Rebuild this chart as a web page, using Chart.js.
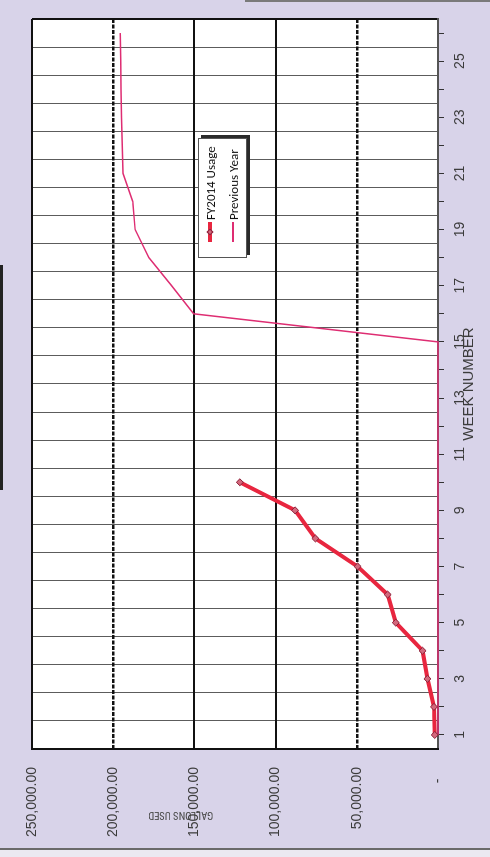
<!DOCTYPE html>
<html><head><meta charset="utf-8">
<script src="https://cdn.jsdelivr.net/npm/chart.js@4.4.0/dist/chart.umd.min.js"></script>
<style>
html,body{margin:0;padding:0;width:490px;height:857px;overflow:hidden;background:#d8d3e9;}
#rot{position:absolute;left:0;top:0;width:857px;height:490px;transform-origin:0 0;transform:translate(0,857px) rotate(-90deg);}
#c{position:absolute;left:0;top:0;}
#legend{position:absolute;left:599px;top:198px;width:120px;height:49px;background:#fff;border:1px solid #555;box-shadow:3px 3px 0 #2a2a2a;box-sizing:border-box;font-family:Carlito,Lato,'Liberation Sans',sans-serif;font-size:13px;color:#111;}
.li{position:absolute;left:15px;height:14px;display:flex;align-items:center;white-space:nowrap;}
.sw{position:relative;width:20px;height:14px;margin-right:2px;}
.sw .ln{position:absolute;left:0;right:0;top:50%;}
.sw .mk{position:absolute;left:50%;top:50%;width:5px;height:5px;transform:translate(-50%,-50%) rotate(45deg);box-sizing:border-box;}
#scanbottom{position:absolute;left:0;top:848px;width:490px;height:9px;background:#ebe9f1;border-top:2px solid #6a6a6a;}
#scanleft{position:absolute;left:0;top:265px;width:3px;height:225px;background:#222;}
#scantop{position:absolute;left:245px;top:0;width:245px;height:2px;background:#7a7a7a;}
</style></head>
<body>
<div id="rot"><canvas id="c" width="857" height="490"></canvas><div id="legend"></div></div>
<div id="scanbottom"></div><div id="scanleft"></div><div id="scantop"></div>
<script>
const weeks = ['1','2','3','4','5','6','7','8','9','10','11','12','13','14','15','16','17','18','19','20','21','22','23','24','25','26'];
const weekTickLabels = ['1','3','5','7','9','11','13','15','17','19','21','23','25'];
const fy2014Usage = [2000, 2500, 6500, 9500, 26000, 31000, 49500, 75500, 88000, 122000,
  null, null, null, null, null, null, null, null, null, null, null, null, null, null, null, null];
const previousYear = [0, 0, 0, 0, 0, 0, 0, 0, 0, 0, 0, 0, 0, 0, 0,
  150500, 164000, 178000, 186500, 188000, 194000, 194500, 194900, 195200, 195400, 195700];
const gallonTicks = [0, 50000, 100000, 150000, 200000, 250000];
const solidGallonLines = [100000, 150000, 250000];
const dashedGallonLines = [50000, 200000];

Chart.defaults.font.family = "'Liberation Sans', Arial, sans-serif";
const plotBg = {id:'plotBg', beforeDraw(c){const {ctx, chartArea:a} = c; ctx.save(); ctx.fillStyle = '#ffffff'; ctx.fillRect(a.left, a.top, a.width, a.height); ctx.restore();}};
const fmt = v => v === 0 ? '-   ' : Number(v).toLocaleString('en-US', {minimumFractionDigits:2, maximumFractionDigits:2});

// y title sits off-centre toward the top: pad its start with spaces
const yTitleFont = {family:"'Roboto Condensed','Liberation Sans',sans-serif", size:10.5, weight:'normal'};
function offCentreTitle(text, font, shiftPx){
  const m = document.createElement('canvas').getContext('2d');
  m.font = font.weight + ' ' + font.size + 'px ' + font.family;
  const sp = m.measureText(' ').width || 2.5;
  return ' '.repeat(Math.round(2 * shiftPx / sp)) + text;
}

const chart = new Chart(document.getElementById('c'), {
  type: 'line',
  data: {
    labels: weeks,
    datasets: [
      {label:'FY2014 Usage', data: fy2014Usage, borderColor:'#e8263f', borderWidth:4, pointStyle:'rectRot', pointRadius:3.5, pointBackgroundColor:'#d4687c', pointBorderColor:'#8a1f38', pointBorderWidth:1, tension:0, clip:false, spanGaps:false},
      {label:'Previous Year', data: previousYear, borderColor:'#de2d72', borderWidth:1.5, pointRadius:0, tension:0, clip:false}
    ]
  },
  options: {
    responsive:false, devicePixelRatio:1, animation:false,
    layout:{padding:{left:14, right:19, top:32, bottom:0}},
    plugins:{legend:{display:false}, tooltip:{enabled:false}},
    scales:{
      x:{
        type:'category', offset:true, weight:1,
        grid:{offset:true, drawTicks:false,
          color: ctx => (ctx.type === 'scale' || ctx.index === 0) ? '#111' : '#5c5c5c',
          lineWidth: ctx => (ctx.type === 'scale' || ctx.index === 0) ? 2 : 1},
        border:{color:'#555', width:2},
        ticks:{autoSkip:false, maxRotation:0, padding:14, color:'#3c3c3c', font:{size:14},
          callback(v){const l = this.getLabelForValue(v); return weekTickLabels.includes(l) ? l : '';}},
        title:{display:true, text:'WEEK NUMBER', color:'#3c3c3c', font:{size:15}, padding:{top:0, bottom:12}},
        afterFit(s){ s.height = 52; }
      },
      xMarks:{
        type:'category', offset:true, position:'bottom', weight:-1,
        grid:{offset:false, drawOnChartArea:false, drawTicks:true, tickLength:6, color:'#333', lineWidth:1},
        border:{display:false},
        ticks:{display:false, autoSkip:false},
        afterFit(s){ s.height = 0; }
      },
      y:{
        min:0, max:250000, position:'left',
        afterBuildTicks(s){ s.ticks = gallonTicks.map(v => ({value:v})); },
        ticks:{padding:18, color:'#3c3c3c', font:{size:14}, callback: v => fmt(v)},
        grid:{drawTicks:false, lineWidth:2,
          color: ctx => (ctx.tick && solidGallonLines.includes(ctx.tick.value)) ? '#111' : 'rgba(0,0,0,0)'},
        border:{color:'#111', width:2},
        title:{display:true, text: offCentreTitle('GALLONS USED', yTitleFont, 54), color:'#4a4a4a', font:yTitleFont, padding:{top:22, bottom:0}},
        afterFit(s){ s.width = 94; }
      },
      y2:{
        min:0, max:250000, position:'left',
        afterBuildTicks(s){ s.ticks = gallonTicks.map(v => ({value:v})); },
        ticks:{display:false},
        grid:{drawTicks:false, lineWidth:2.5,
          color: ctx => (ctx.tick && dashedGallonLines.includes(ctx.tick.value)) ? '#111' : 'rgba(0,0,0,0)'},
        border:{display:false, dash:[4,1.5]},
        afterFit(s){ s.width = 0; }
      }
    }
  },
  plugins:[plotBg]
});

// HTML legend built from the chart's datasets
(function(){
  const leg = document.getElementById('legend');
  chart.data.datasets.forEach((ds, i) => {
    const row = document.createElement('div'); row.className = 'li'; row.style.top = (i === 0 ? 4 : 27) + 'px';
    const sw = document.createElement('span'); sw.className = 'sw';
    const ln = document.createElement('span'); ln.className = 'ln';
    ln.style.height = ds.borderWidth + 'px'; ln.style.marginTop = (-ds.borderWidth/2) + 'px'; ln.style.background = ds.borderColor;
    sw.appendChild(ln);
    if (ds.pointRadius > 0) { const mk = document.createElement('span'); mk.className = 'mk'; mk.style.background = ds.pointBackgroundColor; mk.style.border = '1px solid ' + ds.pointBorderColor; sw.appendChild(mk); }
    const tx = document.createElement('span'); tx.textContent = ds.label;
    row.appendChild(sw); row.appendChild(tx); leg.appendChild(row);
  });
})();
</script>
</body></html>
